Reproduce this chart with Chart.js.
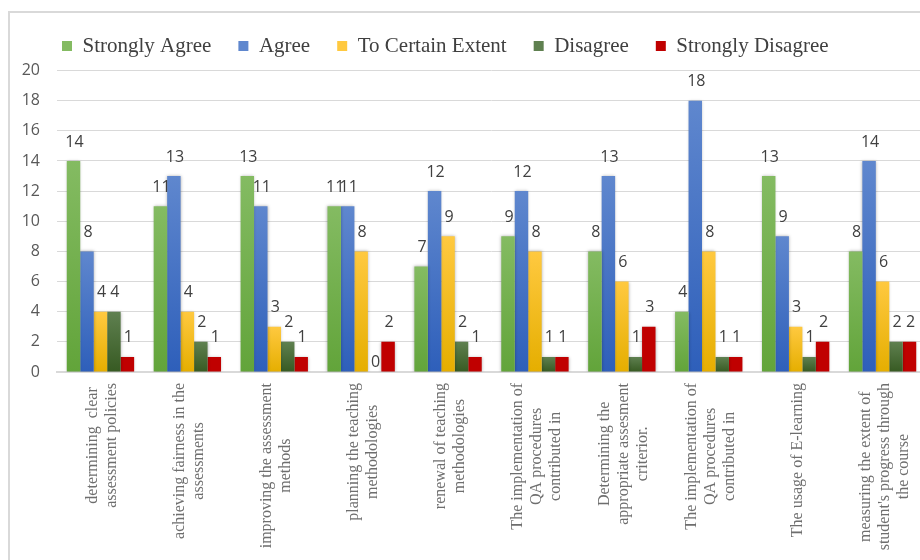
<!DOCTYPE html>
<html>
<head>
<meta charset="utf-8">
<script src="https://cdn.jsdelivr.net/npm/chart.js@4.4.0/dist/chart.umd.min.js"></script>
<style>
  html, body { margin: 0; padding: 0; background: #fff; overflow: hidden; }
  #frame { position: absolute; left: 8px; top: 11px; width: 960px; height: 620px; border-left: 2px solid #d9d9d9; border-top: 2px solid #d9d9d9; }
  #wrap { position: absolute; left: 0; top: 0; width: 940px; height: 600px; }
</style>
</head>
<body>
<div id="frame"></div>
<div id="wrap"><canvas id="survey-chart" width="940" height="600"></canvas></div>
<script>
// ===== data =====
const categoryLabels = [
  ["determining  clear", "assessment policies"],
  ["achieving fairness in the", "assessments"],
  ["improving the assessment", "methods"],
  ["planning the teaching", "methodologies"],
  ["renewal of teaching", "methodologies"],
  ["The implementation of", "QA procedures", "contributed in"],
  ["Determining the", "appropriate assesment", "criterior."],
  ["The implementation of", "QA procedures", "contributed in"],
  ["The usage of E-learning"],
  ["measuring the extent of", "student's progress through", "the course"]
];
const seriesNames = ["Strongly Agree", "Agree", "To Certain Extent", "Disagree", "Strongly Disagree"];
const stronglyAgree = [14, 11, 13, 11, 7, 9, 8, 4, 13, 8];
const agree = [8, 13, 11, 11, 12, 12, 13, 18, 9, 14];
const certainExtent = [4, 4, 3, 8, 9, 8, 6, 8, 3, 6];
const disagree = [4, 2, 2, 0, 2, 1, 1, 1, 1, 2];
const stronglyDisagree = [1, 1, 1, 2, 1, 1, 3, 1, 2, 2];
const yMax = 20;
const yStep = 2;

// vertical gradient per bar, lighter at the top
function barFill(top, bottom, flat) {
  return (context) => {
    if (context.type !== "data") return flat;
    const y = context.chart.scales.y;
    if (!y) return flat;
    const y0 = y.getPixelForValue(0);
    const y1 = y.getPixelForValue(context.raw);
    if (!isFinite(y0) || !isFinite(y1) || y0 === y1) return flat;
    const g = context.chart.ctx.createLinearGradient(0, y1, 0, y0);
    g.addColorStop(0, top);
    g.addColorStop(1, bottom);
    return g;
  };
}

const seriesValues = [stronglyAgree, agree, certainExtent, disagree, stronglyDisagree];
const seriesFills = [
  barFill("#84bb62", "#62a43a", "#70ad47"),
  barFill("#5f87ce", "#2e5fba", "#4472c4"),
  barFill("#ffc940", "#e5ae00", "#ffc000"),
  barFill("#5f8050", "#375a22", "#43682b"),
  barFill("#c00000", "#c00000", "#c00000")
];

// soft shadow under bars + value labels above them
const barValueLabels = {
  id: "barValueLabels",
  beforeDatasetsDraw(chart) {
    const ctx = chart.ctx;
    ctx.save();
    ctx.shadowColor = "rgba(0,0,0,0.3)";
    ctx.shadowBlur = 3;
    ctx.shadowOffsetX = 0;
  },
  afterDatasetsDraw(chart) {
    const ctx = chart.ctx;
    ctx.restore();
    ctx.save();
    ctx.font = '16px "Open Sans"';
    ctx.fillStyle = "#404040";
    ctx.textAlign = "center";
    ctx.textBaseline = "middle";
    chart.data.datasets.forEach((ds, i) => {
      chart.getDatasetMeta(i).data.forEach((bar, j) => {
        const v = ds.data[j];
        ctx.fillText(String(v), bar.x + 1, bar.y - (v === 0 ? 10 : 19));
      });
    });
    ctx.restore();
  }
};

// rotated, centred multi-line category names under the axis
const categoryAxisLabels = {
  id: "categoryAxisLabels",
  afterLayout(chart) {
    // legend sits over the plot, a little higher than its layout box
    chart.legend.left = 35;
    chart.legend.top -= 4;
  },
  afterDraw(chart) {
    const ctx = chart.ctx;
    const xs = chart.scales.x;
    const top = chart.chartArea.bottom + 11;
    ctx.save();
    ctx.font = '16px "Liberation Serif"';
    ctx.fillStyle = "#6e6e6e";
    ctx.textAlign = "center";
    ctx.textBaseline = "middle";
    categoryLabels.forEach((lines, i) => {
      const cx = xs.getPixelForValue(i) + 2;
      const w = Math.max(...lines.map(l => ctx.measureText(l).width));
      ctx.save();
      ctx.translate(cx, top + w / 2);
      ctx.rotate(-Math.PI / 2);
      lines.forEach((line, j) => {
        ctx.fillText(line, 0, (j - (lines.length - 1) / 2) * 19);
      });
      ctx.restore();
    });
    ctx.restore();
  }
};

const ctx = document.getElementById("survey-chart").getContext("2d");
new Chart(ctx, {
  type: "bar",
  data: {
    labels: categoryLabels,
    datasets: seriesNames.map((name, i) => ({
      label: name,
      data: seriesValues[i],
      backgroundColor: seriesFills[i],
      borderWidth: 0,
      categoryPercentage: 0.775,
      barPercentage: 1
    }))
  },
  options: {
    responsive: false,
    animation: false,
    layout: { padding: { top: 12.5, left: 0, right: 14, bottom: 0 } },
    plugins: {
      legend: {
        position: "top",
        align: "start",
        labels: {
          font: { family: "Liberation Serif", size: 21 },
          color: "#404040",
          boxWidth: 10,
          boxHeight: 10,
          padding: 27
        }
      },
      tooltip: { enabled: false }
    },
    scales: {
      x: {
        grid: { display: false },
        border: { display: true, color: "#d9d9d9", width: 2 },
        ticks: { display: false },
        afterFit: (scale) => { scale.height = 228; }
      },
      y: {
        min: 0,
        max: yMax,
        ticks: {
          stepSize: yStep,
          color: "#595959",
          font: { family: "Open Sans", size: 16 },
          padding: 17
        },
        grid: { color: "#d9d9d9", drawTicks: false },
        border: { display: false },
        afterFit: (scale) => { scale.width = 57; }
      }
    }
  },
  plugins: [barValueLabels, categoryAxisLabels]
});
</script>
</body>
</html>
